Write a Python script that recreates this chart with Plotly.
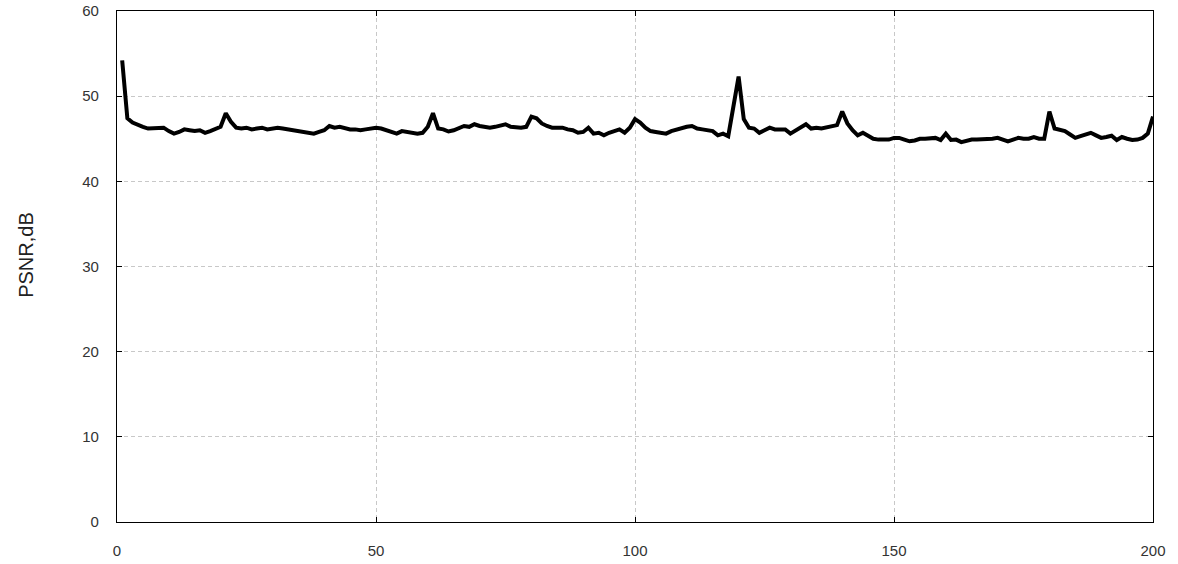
import plotly.graph_objects as go

frames = list(range(1, 201))
psnr = [
    54.2, 47.4, 46.9, 46.6, 46.4, 46.2, 46.2, 46.3, 46.3, 45.9,
    45.6, 45.8, 46.1, 46.0, 45.9, 46.0, 45.7, 45.9, 46.1, 46.4,
    48.0, 47.0, 46.3, 46.2, 46.3, 46.1, 46.2, 46.3, 46.1, 46.2,
    46.3, 46.2, 46.1, 46.0, 45.9, 45.8, 45.7, 45.6, 45.8, 46.0,
    46.5, 46.3, 46.4, 46.2, 46.1, 46.1, 46.0, 46.1, 46.2, 46.3,
    46.2, 46.0, 45.8, 45.6, 45.9, 45.8, 45.8, 45.6, 45.7, 46.4,
    48.0, 46.2, 46.1, 45.85, 46.0, 46.2, 46.5, 46.4, 46.7, 46.5,
    46.4, 46.3, 46.4, 46.5, 46.7, 46.4, 46.3, 46.3, 46.4, 47.6,
    47.4, 46.8, 46.5, 46.3, 46.3, 46.3, 46.1, 46.0, 45.7, 45.8,
    46.3, 45.6, 45.7, 45.4, 45.7, 45.9, 46.1, 45.7, 46.3, 47.3,
    46.9, 46.3, 45.9, 45.8, 45.7, 45.6, 45.9, 46.1, 46.2, 46.4,
    46.5, 46.2, 46.1, 46.0, 45.9, 45.4, 45.6, 45.3, 48.5, 52.3,
    47.3, 46.3, 46.2, 45.7, 46.0, 46.3, 46.1, 46.1, 46.1, 45.6,
    46.0, 46.4, 46.7, 46.2, 46.3, 46.2, 46.3, 46.4, 46.6, 48.2,
    46.8, 46.0, 45.4, 45.7, 45.3, 45.0, 44.9, 44.85, 44.9, 45.1,
    45.1, 44.9, 44.7, 44.8, 45.0, 45.0, 45.1, 45.1, 44.85, 45.6,
    44.85, 44.9, 44.6, 44.8, 44.9, 44.9, 44.9, 44.9, 45.0, 45.1,
    44.9, 44.7, 44.9, 45.1, 45.0, 45.0, 45.2, 45.0, 45.0, 48.2,
    46.2, 46.0, 45.9, 45.5, 45.1, 45.3, 45.5, 45.7, 45.4, 45.1,
    45.2, 45.35, 44.85, 45.2, 45.0, 44.85, 44.9, 45.1, 45.6, 47.6,
]
x_ticks = [0, 50, 100, 150, 200]
y_ticks = [0, 10, 20, 30, 40, 50, 60]
y_title = "PSNR,dB"

font_family = "Liberation Sans, Arial, sans-serif"

fig = go.Figure()
fig.add_trace(go.Scatter(
    x=frames, y=psnr, mode="lines",
    line=dict(color="black", width=4),
    showlegend=False, hoverinfo="skip",
))

axis_common = dict(
    showline=True, linecolor="black", linewidth=1.2, mirror="ticks",
    showgrid=True, gridcolor="#c8c8c8", griddash="4px,3px", gridwidth=1,
    zeroline=False, ticks="inside", ticklen=5, tickcolor="black",
    automargin=False,
    tickfont=dict(family=font_family, size=15, color="#333"),
)

fig.update_layout(
    width=1178, height=564, autosize=False,
    margin=dict(l=117, r=25, t=11, b=42),
    paper_bgcolor="white", plot_bgcolor="white",
    xaxis=dict(range=[0, 200], tickvals=x_ticks, ticklabelstandoff=15, **axis_common),
    yaxis=dict(range=[0, 60], tickvals=y_ticks, ticklabelstandoff=14, **axis_common),
    annotations=[dict(
        text=y_title, textangle=-90, xref="paper", yref="paper",
        x=-0.088, y=0.5225, xanchor="center", yanchor="middle", showarrow=False,
        font=dict(family=font_family, size=20, color="#222"),
    )],
)

fig.write_html(
    "out.html",
    config={"displayModeBar": False},
    post_script="document.body.style.margin='0';document.body.style.overflow='hidden';",
)
